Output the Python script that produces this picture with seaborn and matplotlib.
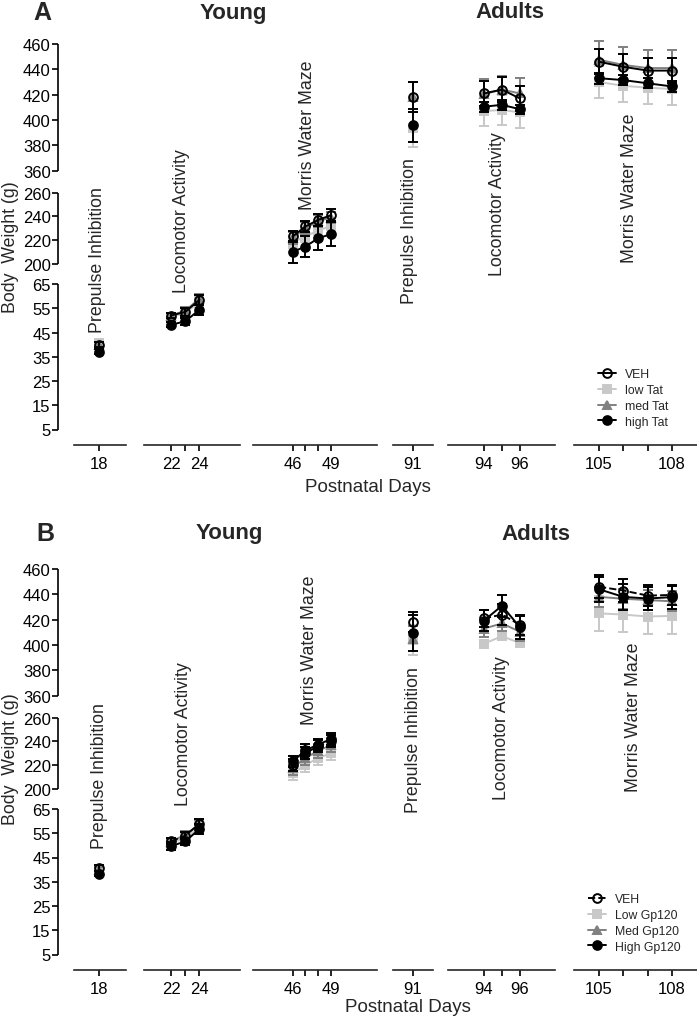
import numpy as np
import pandas as pd
import matplotlib
matplotlib.use("Agg")
import matplotlib.pyplot as plt
import seaborn as sns

sns.set_style("ticks")
plt.rcParams['font.family'] = ['Liberation Sans', 'DejaVu Sans']

# ---- data ----
days = [18, 22, 23, 24, 46, 47, 48, 49, 91, 94, 95, 96, 105, 106, 107, 108]
seg_days = [[18], [22, 23, 24], [46, 47, 48, 49], [91], [94, 95, 96], [105, 106, 107, 108]]
seg_labels = [["18"], ["22", "", "24"], ["46", "", "", "49"], ["91"], ["94", "", "96"], ["105", "", "", "108"]]
y_ticks = [5, 15, 25, 35, 45, 55, 65, 200, 220, 240, 260, 360, 380, 400, 420, 440, 460]

groups_a = ["VEH", "low Tat", "med Tat", "high Tat"]
veh_a = [40, 52, 53.5, 58.5, 223, 231.5, 237, 241, 418, 421, 424, 417, 446, 442, 439, 439]
low_a = [40.5, 51.5, 53, 57.5, 218, 223, 228, 232, 394, 407, 408, 406, 430, 427, 425.5, 424.5]
med_a = [40, 52, 54, 59, 222, 230, 236, 239, 418, 420.5, 424, 421, 447.5, 443.5, 441, 441]
high_a = [37, 48.2, 49.6, 54.4, 210, 214.5, 221.5, 225, 396, 410.5, 412, 408.5, 433, 431.5, 429, 426.5]
veh_a_sem = [1, 1, 1.5, 2, 5, 5, 5, 5, 12, 10, 10, 10, 10, 10, 10, 10]
low_a_sem = [1, 1, 1.5, 2, 5, 5, 6, 6, 15, 12, 12, 12, 13, 13, 13, 13]
med_a_sem = [1, 1, 1.5, 2, 5, 5, 5, 5, 12, 12, 11, 12, 14.5, 14, 14, 14]
high_a_sem = [1, 1, 1.5, 2, 9, 9, 10, 10, 13, 4, 4, 3.5, 4.5, 4, 4, 4]

groups_b = ["VEH", "Low Gp120", "Med Gp120", "High Gp120"]
veh_b = [40.7, 51.7, 54, 59, 220, 230, 236, 240, 418, 421, 424, 416, 446, 443, 439, 439.5]
low_b = [40, 51, 53, 57.5, 213, 220, 226, 230, 404, 401, 407, 401.5, 425, 424, 422.5, 423]
med_b = [40, 51.5, 54.4, 58.5, 217.5, 226, 232, 237, 405, 413, 417, 410.5, 438, 436.5, 435.5, 434.5]
high_b = [38.4, 49.7, 51.6, 56.8, 223, 232.4, 237.3, 242, 409.5, 419.3, 431, 414, 444, 438, 436.7, 437.8]
veh_b_sem = [1.2, 1.2, 1.5, 2, 5, 5, 5, 5, 8, 7, 8, 8, 9, 9, 8, 8]
low_b_sem = [1, 1, 1.5, 2, 6, 6, 6, 6, 12, 3, 3, 2.5, 14, 14, 14, 14]
med_b_sem = [1, 1, 1.5, 2, 6, 6, 6, 6, 10, 7, 6, 7, 8, 8, 8, 8]
high_b_sem = [1, 1.5, 1.5, 2, 5, 5, 5, 5, 14, 8, 8.5, 9, 10, 10, 9, 9]


def long_df(groups, means, sems):
    rows = []
    for g, m, s in zip(groups, means, sems):
        rows.append(pd.DataFrame({"day": days, "weight": m, "sem": s, "group": g}))
    return pd.concat(rows, ignore_index=True)


df_a = long_df(groups_a, [veh_a, low_a, med_a, high_a], [veh_a_sem, low_a_sem, med_a_sem, high_a_sem])
df_b = long_df(groups_b, [veh_b, low_b, med_b, high_b], [veh_b_sem, low_b_sem, med_b_sem, high_b_sem])

# ---- broken y scale (value -> pixels above x axis) ----
Y_VALS = [-1.5, 5, 65, 200, 260, 360, 460, 480]
Y_POS = [0, 15.5, 161, 181.3, 252.3, 274.3, 401, 426.4]
YLIM = (-1.5, 470)


def fwd(v):
    return np.interp(v, Y_VALS, Y_POS)


def inv(u):
    return np.interp(u, Y_POS, Y_VALS)


W, H = 697, 1020
SEG_PX = [(74, 126), (144, 240), (253, 377), (393, 433), (448, 555), (574, 697)]
SEG_XLIM = [(16.65, 19.45), (20.1, 26.85), (42.9, 52.6), (89.57, 92.43), (92.0, 97.95), (103.97, 109.03)]

colors = ["black", "#c8c8c8", "#808080", "black"]
faces = ["none", "#c8c8c8", "#808080", "black"]
markers = ["o", "s", "^", "o"]
draw_order = [1, 2, 0, 3]

fig = plt.figure(figsize=(W / 100, H / 100), dpi=100)


def ftext(x, y, s, **kw):
    fig.text(x / W, 1 - y / H, s, ha="center", va="center", **kw)


def draw_panel(df, groups, base_px, veh_ls, legend_xy, texts):
    height_px = fwd(YLIM[1]) - fwd(YLIM[0])
    bottom = 1 - base_px / H
    height = height_px / H

    # y axis with three spine pieces
    ax_y = fig.add_axes([58 / W, bottom, 16 / W, height])
    ax_y.set_yscale("function", functions=(fwd, inv))
    ax_y.set_ylim(*YLIM)
    ax_y.set_yticks(y_ticks)
    ax_y.set_xticks([])
    for sp in ax_y.spines.values():
        sp.set_visible(False)
    ax_y.patch.set_visible(False)
    ax_y.vlines([0, 0, 0], [5, 200, 360], [65, 260, 460], transform=ax_y.get_yaxis_transform(),
                colors="black", lw=1.2, clip_on=False)
    ax_y.tick_params(axis="y", length=4.5, width=1.2, pad=0.8, labelsize=12, colors="black")

    handles = {}
    for k, (seg, labs) in enumerate(zip(seg_days, seg_labels)):
        x0, x1 = SEG_PX[k]
        ax = fig.add_axes([x0 / W, bottom, (x1 - x0) / W, height])
        ax.set_yscale("function", functions=(fwd, inv))
        sub = df[df["day"].isin(seg)]
        for z, i in enumerate(draw_order):
            g = sub[sub["group"] == groups[i]]
            ax.errorbar(g["day"], g["weight"], yerr=g["sem"], fmt="none", ecolor=colors[i],
                        elinewidth=1.4, capsize=3.5, capthick=1.4, zorder=2 + 2 * z, clip_on=False)
            sns.lineplot(data=g, x="day", y="weight", ax=ax, color=colors[i], lw=1.4,
                         linestyle=veh_ls if i == 0 else "-", marker=markers[i], markersize=6.3,
                         markerfacecolor=faces[i], markeredgecolor=colors[i], markeredgewidth=1.4,
                         errorbar=None, legend=False, label=groups[i], zorder=3 + 2 * z, clip_on=False)
        if k == len(seg_days) - 1:
            for line in ax.get_lines():
                if line.get_label() in groups:
                    handles[line.get_label()] = line
        ax.set_xlim(*SEG_XLIM[k])
        ax.set_ylim(*YLIM)
        ax.set_xticks(seg)
        ax.set_xticklabels(labs)
        ax.set_yticks([])
        ax.set(xlabel="", ylabel="")
        for side in ["left", "top", "right"]:
            ax.spines[side].set_visible(False)
        ax.spines["bottom"].set_linewidth(1.2)
        ax.patch.set_visible(False)
        ax.tick_params(axis="x", length=4, width=1.2, pad=4, labelsize=12, colors="black")

    fig.legend([handles[g] for g in groups], groups, loc="upper left",
               bbox_to_anchor=(legend_xy[0] / W, 1 - legend_xy[1] / H), frameon=False,
               fontsize=8.8, handlelength=1.5, handletextpad=0.7, labelspacing=0.32,
               borderpad=0, borderaxespad=0)

    for (x, y, s, kw) in texts:
        ftext(x, y, s, **kw)


rot = dict(rotation=90, fontsize=12.8)
texts_a = [
    (42, 13, "A", dict(fontsize=18, fontweight="bold")),
    (233, 13, "Young", dict(fontsize=16, fontweight="bold")),
    (510, 13, "Adults", dict(fontsize=16, fontweight="bold")),
    (97, 260, "Prepulse Inhibition", rot),
    (181, 221, "Locomotor Activity", rot),
    (307, 135, "Morris Water Maze", rot),
    (409, 231, "Prepulse Inhibition", rot),
    (498, 204, "Locomotor Activity", rot),
    (630, 188, "Morris Water Maze", rot),
    (368, 487, "Postnatal Days", dict(fontsize=13.5)),
    (11, 247, "Body  Weight (g)", dict(rotation=90, fontsize=12.8)),
]
texts_b = [
    (45, 534, "B", dict(fontsize=18, fontweight="bold")),
    (229, 534, "Young", dict(fontsize=16, fontweight="bold")),
    (536, 534, "Adults", dict(fontsize=16, fontweight="bold")),
    (99, 776, "Prepulse Inhibition", rot),
    (183, 734, "Locomotor Activity", rot),
    (309, 650, "Morris Water Maze", rot),
    (413, 740, "Prepulse Inhibition", rot),
    (502, 728, "Locomotor Activity", rot),
    (633, 717, "Morris Water Maze", rot),
    (408, 1008, "Postnatal Days", dict(fontsize=13.5)),
    (11, 759, "Body  Weight (g)", dict(rotation=90, fontsize=12.8)),
]

draw_panel(df_a, groups_a, 446, "-", (598, 369), texts_a)
draw_panel(df_b, groups_b, 971, "--", (588, 894), texts_b)

fig.savefig("out.png", dpi=100)
